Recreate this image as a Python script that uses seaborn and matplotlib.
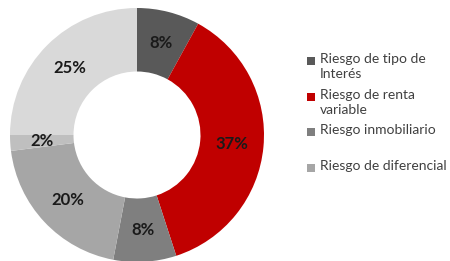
import matplotlib
matplotlib.use("Agg")
import matplotlib.pyplot as plt
import seaborn as sns
from matplotlib.patches import Rectangle

# slice values clockwise from the top
values = [8, 37, 8, 20, 2, 25]
colors = ["#595959", "#C00000", "#7F7F7F", "#A6A6A6", "#BFBFBF", "#D9D9D9"]
legend_labels = ["Riesgo de tipo de\nInterés", "Riesgo de renta\nvariable",
                 "Riesgo inmobiliario", "Riesgo de diferencial"]

sns.set_theme(style="white")
plt.rcParams["font.family"] = ["Lato", "DejaVu Sans"]

fig = plt.figure(figsize=(4.5, 2.61), dpi=100)
W, H = 450, 261

# donut axes, placed in pixel units
cx, cy, r = 137, 126, 127
ax = fig.add_axes([(cx - r) / W, (cy - r) / H, 2 * r / W, 2 * r / H])
wedges, texts, autotexts = ax.pie(
    values, colors=colors, startangle=90, counterclock=False,
    radius=1, wedgeprops=dict(width=0.5, linewidth=0),
    autopct="%.0f%%", pctdistance=0.75,
    textprops=dict(fontsize=12, fontweight="bold", color="#1a1a1a"),
)
ax.set_xlim(-1, 1)
ax.set_ylim(-1, 1)
ax.set_aspect("equal")
ax.axis("off")

# legend drawn by hand so the marker sits on the first line
entry_y = [61, 97, 132, 168]
for label, color, y in zip(legend_labels, colors, entry_y):
    fig.patches.append(Rectangle((307 / W, (H - y - 4) / H), 8 / W, 8 / H,
                                 transform=fig.transFigure, facecolor=color,
                                 edgecolor="none"))
    fig.text(320 / W, (H - y + 8) / H, label, fontsize=10, color="#404040",
             va="top", ha="left", linespacing=1.25)

fig.savefig("out.png", dpi=100)
